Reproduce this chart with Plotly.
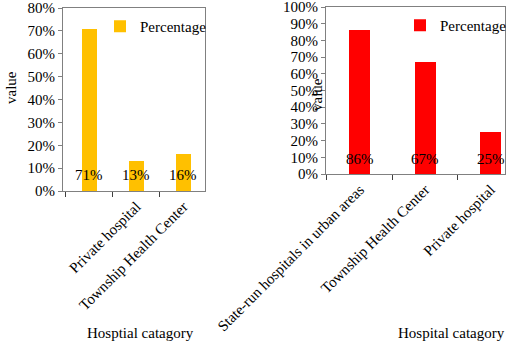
import plotly.graph_objects as go

# Left chart data
left_categories = [" ", "Private hospital", "Township Health Center"]
left_values = [0.71, 0.13, 0.16]
left_labels = ["71%", "13%", "16%"]

# Right chart data
right_categories = ["State-run hospitals in urban areas", "Township Health Center", "Private hospital"]
right_values = [0.86, 0.67, 0.25]
right_labels = ["86%", "67%", "25%"]

left_ticks = [0, 0.1, 0.2, 0.3, 0.4, 0.5, 0.6, 0.7, 0.8]
right_ticks = [0, 0.1, 0.2, 0.3, 0.4, 0.5, 0.6, 0.7, 0.8, 0.9, 1.0]

FONT = "Liberation Serif"
W, H = 510, 343

def px_x(v):
    return v / W

def px_y(v):
    return 1 - v / H

fig = go.Figure()
fig.add_trace(go.Bar(
    x=left_categories, y=left_values,
    name="Percentage", marker=dict(color="#FFC000", line=dict(width=0)),
    width=0.32, xaxis="x", yaxis="y", legend="legend",
))
fig.add_trace(go.Bar(
    x=right_categories, y=right_values,
    name="Percentage", marker=dict(color="#FF0000", line=dict(width=0)),
    width=0.32, xaxis="x2", yaxis="y2", legend="legend2",
))

annotations = []
for c, lab in zip(left_categories, left_labels):
    annotations.append(dict(x=c, y=0, xref="x", yref="y", text=lab, showarrow=False,
                            xanchor="center", yanchor="middle", yshift=16,
                            font=dict(family=FONT, size=15, color="black")))
for c, lab in zip(right_categories, right_labels):
    annotations.append(dict(x=c, y=0, xref="x2", yref="y2", text=lab, showarrow=False,
                            xanchor="center", yanchor="middle", yshift=15,
                            font=dict(family=FONT, size=15, color="black")))

title_font = dict(family=FONT, size=15, color="black")
annotations += [
    dict(text="value", textangle=-90, x=px_x(11), y=px_y(88), xref="paper", yref="paper",
         xanchor="center", yanchor="middle", showarrow=False, font=title_font),
    dict(text="value", textangle=-90, x=px_x(317), y=px_y(95), xref="paper", yref="paper",
         xanchor="center", yanchor="middle", showarrow=False, font=title_font),
    dict(text="Hosptial catagory", x=px_x(140), y=px_y(333), xref="paper", yref="paper",
         xanchor="center", yanchor="middle", showarrow=False, font=title_font),
    dict(text="Hospital catagory", x=px_x(451), y=px_y(333), xref="paper", yref="paper",
         xanchor="center", yanchor="middle", showarrow=False, font=title_font),
]

axis_common = dict(showline=True, mirror=True, linecolor="#808080", linewidth=1,
                   showgrid=False, zeroline=False, automargin=False,
                   ticklabeloverflow="allow",
                   tickfont=dict(family=FONT, size=15, color="black"))

fig.update_layout(
    width=W, height=H, margin=dict(l=0, r=0, t=0, b=0, autoexpand=False),
    paper_bgcolor="white", plot_bgcolor="white",
    font=dict(family=FONT, size=15, color="black"),
    bargap=0,
    xaxis=dict(domain=[px_x(63), px_x(205)], anchor="y", type="category",
               range=[-0.56, 2.46], tickson="boundaries", ticks="outside",
               ticklen=5, tickcolor="#404040", tickangle=-45, **axis_common),
    yaxis=dict(domain=[px_y(191), px_y(8)], anchor="x", range=[0, 0.8001],
               tickvals=left_ticks, tickformat=".0%", ticks="outside", ticklen=4,
               tickcolor="#808080", **axis_common),
    xaxis2=dict(domain=[px_x(326), px_x(505)], anchor="y2", type="category",
                range=[-0.515, 2.22], tickson="boundaries", ticks="outside",
                ticklen=5, tickcolor="#404040", tickangle=-45, **axis_common),
    yaxis2=dict(domain=[px_y(174), px_y(7)], anchor="x2", range=[0, 1.0001],
                tickvals=right_ticks, tickformat=".0%", ticks="outside", ticklen=4,
                tickcolor="#808080", **axis_common),
    legend=dict(x=px_x(100), y=px_y(10), xanchor="left", yanchor="top",
                bgcolor="rgba(0,0,0,0)", font=dict(family=FONT, size=15),
                itemwidth=30, tracegroupgap=0),
    legend2=dict(x=px_x(400), y=px_y(9), xanchor="left", yanchor="top",
                 bgcolor="rgba(0,0,0,0)", font=dict(family=FONT, size=15),
                 itemwidth=30, tracegroupgap=0),
    showlegend=True,
    annotations=annotations,
)

fig.write_html("out.html", config={"displayModeBar": False},
               post_script="document.body.style.margin='0px';")
